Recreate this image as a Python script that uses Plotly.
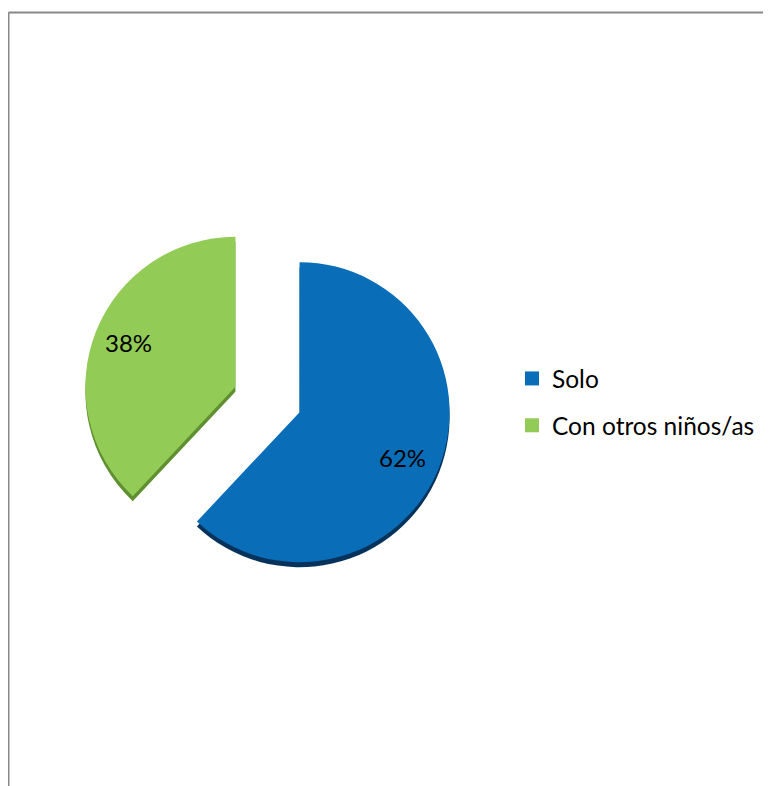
import plotly.graph_objects as go

labels = ["Solo", "Con otros niños/as"]
values = [62, 38]
colors = ["#0A6DB7", "#92CB55"]
shadow_colors = ["#06325C", "#5F8F30"]

W, H = 771, 786
FONT = "Lato"
PAGE = 8  # default body margin of the html page

cx, cy, half = 259.5, 391.5, 184.5
dx0, dx1 = (cx - half) / W, (cx + half) / W
dy0, dy1 = (H - cy - half) / H, (H - cy + half) / H
off = 5 / H

fig = go.Figure()
# 3D thickness (shadow) pie
fig.add_trace(go.Pie(
    labels=labels, values=values, sort=False, direction="clockwise", rotation=0,
    pull=[0.23, 0.23], marker=dict(colors=shadow_colors, line=dict(width=0)),
    textinfo="none", hoverinfo="skip", showlegend=False,
    domain=dict(x=[dx0, dx1], y=[dy0 - off, dy1 - off]),
))
fig.add_trace(go.Pie(
    labels=labels, values=values, sort=False, direction="clockwise", rotation=0,
    pull=[0.23, 0.23], marker=dict(colors=colors, line=dict(width=0)),
    textinfo="none", showlegend=False,
    domain=dict(x=[dx0, dx1], y=[dy0, dy1]),
))
# legend entries
for i, (lab, col) in enumerate(zip(labels, colors)):
    fig.add_trace(go.Scatter(
        x=[None], y=[None], mode="markers", name=lab, legendgroup=f"g{i}",
        marker=dict(symbol="square", size=14, color=col),
    ))

# percentage labels
total = sum(values)
label_pos = [(403 - PAGE, 458 - PAGE), (128 - PAGE, 342 - PAGE)]
annotations = []
for v, (px, py) in zip(values, label_pos):
    annotations.append(dict(
        x=px / W, y=1 - py / H, xref="paper", yref="paper", showarrow=False,
        text=f"{v / total * 100:.0f}%", xanchor="center", yanchor="middle",
        font=dict(family=FONT, size=24, color="black"),
    ))

fig.update_layout(
    width=W, height=H, margin=dict(l=0, r=0, t=0, b=0),
    paper_bgcolor="white", plot_bgcolor="white",
    xaxis=dict(visible=False), yaxis=dict(visible=False),
    showlegend=True,
    legend=dict(x=504 / W, y=1 - 348 / H, xanchor="left", yanchor="top",
                font=dict(family=FONT, size=24.5, color="black"),
                tracegroupgap=12, bgcolor="rgba(0,0,0,0)"),
    annotations=annotations,
    shapes=[
        dict(type="line", xref="paper", yref="paper", x0=0.5 / W, x1=1.0, y0=1 - 4.5 / H, y1=1 - 4.5 / H,
             line=dict(color="#888888", width=2)),
        dict(type="line", xref="paper", yref="paper", x0=0.5 / W, x1=0.5 / W, y0=0, y1=1 - 4.5 / H,
             line=dict(color="#888888", width=2)),
    ],
)

fig.write_html("out.html")
